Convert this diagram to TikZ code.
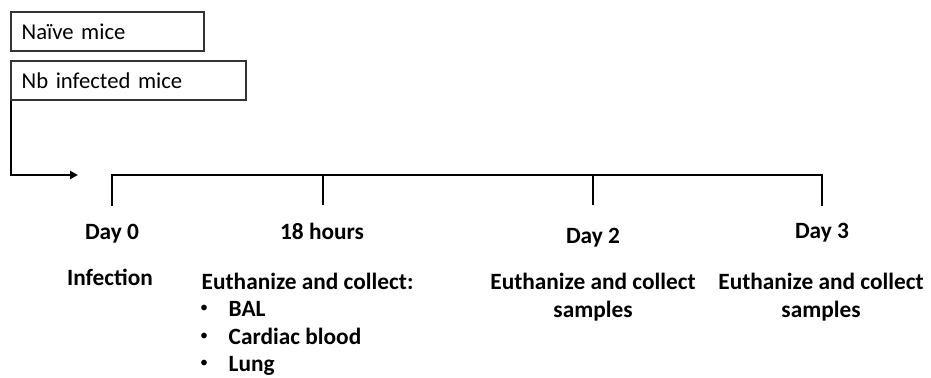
\documentclass[tikz,border=0pt]{standalone}
\usepackage{fontspec}
\setmainfont{Carlito}
\usetikzlibrary{arrows.meta}

\tikzset{
	groupbox/.style={draw=black!80, line width=1.5pt, anchor=north west, minimum height=29pt,
		inner xsep=8pt, inner ysep=0pt, text depth=0pt, font=\fontsize{17}{20}\selectfont, align=left},
	daylabel/.style={font=\bfseries\fontsize{17.5}{20}\selectfont, text height=12pt, text depth=3.5pt},
	steptext/.style={font=\bfseries\fontsize{17.5}{21}\selectfont, align=center},
	dotmark/.style={font=\fontsize{12}{14}\selectfont, inner sep=0pt},
	axis/.style={line width=1.5pt}
}

\begin{document}
\begin{tikzpicture}[x=0.75pt, y=-0.75pt]
		\useasboundingbox (0, 0) rectangle (931, 378);
		% Groups of mice.
		\node[groupbox, text width=128.75pt] (naive) at (10, 11) {Naïve mice};
		\node[groupbox, text width=160.25pt] (infected) at (10, 60) {Nb infected mice};
		% Infection arrow.
		\coordinate (turn) at (11, 175);
		\coordinate (start) at (78, 175);
		\draw[axis, -{Triangle[length=6pt, width=6pt]}] (infected.south west -| turn) -- (turn) -- (start);
		% Timeline with ticks.
		\foreach \name/\xx in {d0/112, h18/323, d2/593, d3/822} {
			\coordinate (\name top) at (\xx, 175);
			\coordinate (\name bot) at (\xx, 205);
		}
		\draw[axis, line cap=rect] (d0bot) -- (d0top) -- (d3top) -- (d3bot);
		\draw[axis] (h18top) -- (h18bot);
		\draw[axis] (d2top) -- (d2bot);
		% Time points.
		\node[daylabel] (day0) at (112, 234) {Day 0};
		\node[daylabel] (hours) at (322, 234) {18 hours};
		\node[daylabel] (day2) at (593, 238) {Day 2};
		\node[daylabel] (day3) at (822, 233) {Day 3};
		% What happens at each time point.
		\node[steptext] (inf) at (110, 277) {Infection};
		\node[steptext, anchor=west] (coll) at (197, 281) {Euthanize and collect:};
		\foreach \name/\yy/\what in {bal/311/BAL, blood/339/Cardiac blood, lung/366/Lung} {
			\node[daylabel, anchor=west] (\name) at (224, \yy) {\what};
			\node[dotmark] (dot\name) at (204, \yy - 2) {•};
		}
		\node[steptext] (samp2) at (593, 297) {Euthanize and collect\\samples};
		\node[steptext] (samp3) at (821, 297) {Euthanize and collect\\samples};
	\end{tikzpicture}
\end{document}
